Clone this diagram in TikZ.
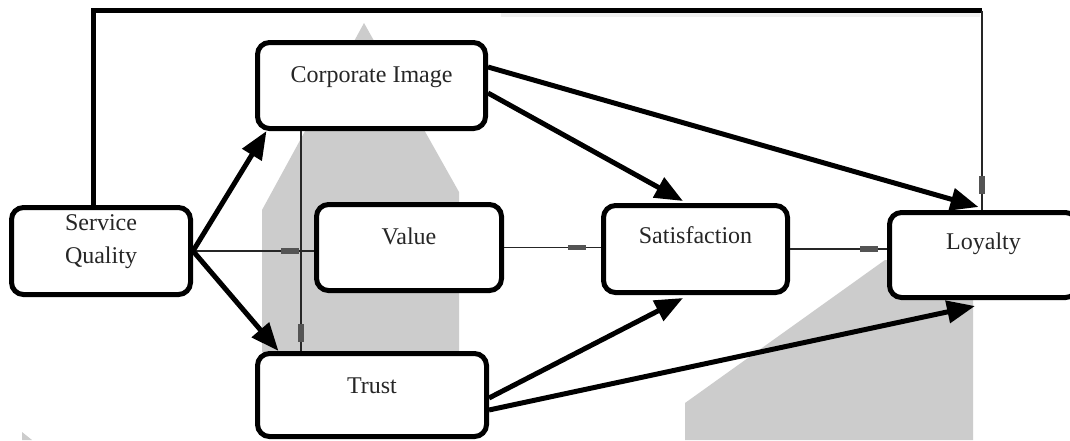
\documentclass[tikz,border=0pt]{standalone}
\usepackage{fontspec}
\setmainfont{Liberation Serif}
\usetikzlibrary{arrows.meta,decorations.markings,calc}
\definecolor{backgrey}{gray}{0.8}
\definecolor{blipcol}{gray}{0.33}
\definecolor{ink}{gray}{0.15}

\begin{document}
\begin{tikzpicture}[x=1pt,y=-1pt,
  box/.style={draw=black, line width=5pt, rounded corners=12pt, fill=white,
    inner sep=0pt, font=\fontsize{24}{33}\selectfont, text=ink},
  link/.style={line width=5pt, -{Triangle[length=28pt,width=22pt]}},
  wire/.style={line width=1.3pt, draw=black!85},
  blip/.style={postaction={decorate}, decoration={markings,
    mark=at position #1 with {\fill[blipcol] (-9pt,-2.6pt) rectangle (9pt,2.6pt);}}},
]
% canvas
\fill[white] (0,0) rectangle (1070,440);
\useasboundingbox (0,0) rectangle (1070,440);

% grey background shapes
\fill[backgrey] (364,23) -- (459,192) -- (459,352) -- (262,352) -- (262,210) -- cycle;
\fill[backgrey] (685,440) -- (685,403) -- (885,260) -- (973,260) -- (973,440) -- cycle;
\fill[backgrey] (22,440) -- (22,432) -- (32,440) -- cycle;
\fill[gray!12] (501,13) rectangle (980,16.5);

% constructs
\node[box, minimum width=179pt, minimum height=87pt, text height=22.5pt, text depth=64.5pt]
  (sq) at (101,251) {\smash{\begin{tabular}[t]{@{}c@{}}Service\\Quality\end{tabular}}};
\node[box, minimum width=228pt, minimum height=86pt, text height=39.5pt, text depth=46.5pt]
  (ci) at (371.5,85.5) {Corporate Image};
\node[box, minimum width=185pt, minimum height=86pt, text height=39.5pt, text depth=46.5pt]
  (val) at (409,247.5) {Value};
\node[box, minimum width=229pt, minimum height=83pt, text height=39.5pt, text depth=43.5pt]
  (tr) at (372,395) {Trust};
\node[box, minimum width=184pt, minimum height=87pt, text height=37.5pt, text depth=49.5pt]
  (sat) at (695.5,249) {Satisfaction};
\node[box, minimum width=188pt, minimum height=85pt, text height=36.5pt, text depth=48.5pt]
  (loy) at (983.5,255) {Loyalty};

% thin paths with small markers
\draw[wire, blip=-24pt] (sq.east) -- (val.west |- sq.east);
\draw[wire, blip=-24pt] (val.east) -- (sat.west |- val.east);
\draw[wire, blip=-18pt] (sat.east) -- (loy.west |- sat.east);
\draw[wire, blip=-18pt] ([xshift=-70.5pt]ci.south) -- ([xshift=-71pt]tr.north);

% direct path from service quality to loyalty over the top
\coordinate (turn) at (982,10.5);
\draw[line width=5pt] ([xshift=-8pt]sq.north) |- (turn);
\draw[wire, blip=-25pt] (turn) -- ([xshift=-1.5pt]loy.north);

% main paths
\draw[link] (sq.east) -- ([xshift=11.5pt]ci.south west);
\draw[link] (sq.east) -- ([xshift=23.5pt]tr.north west);
\draw[link] ([yshift=18.5pt]ci.east) -- ([xshift=-5pt,yshift=3pt]loy.north);
\draw[link] ([yshift=-7.5pt]ci.east) -- ([xshift=-12.5pt,yshift=2pt]sat.north);
\draw[link] ([yshift=-3pt]tr.east) -- ([xshift=-12.5pt,yshift=-3pt]sat.south);
\draw[link] ([yshift=-15pt]tr.east) -- ([xshift=-8.5pt,yshift=-6pt]loy.south);
\end{tikzpicture}
\end{document}
